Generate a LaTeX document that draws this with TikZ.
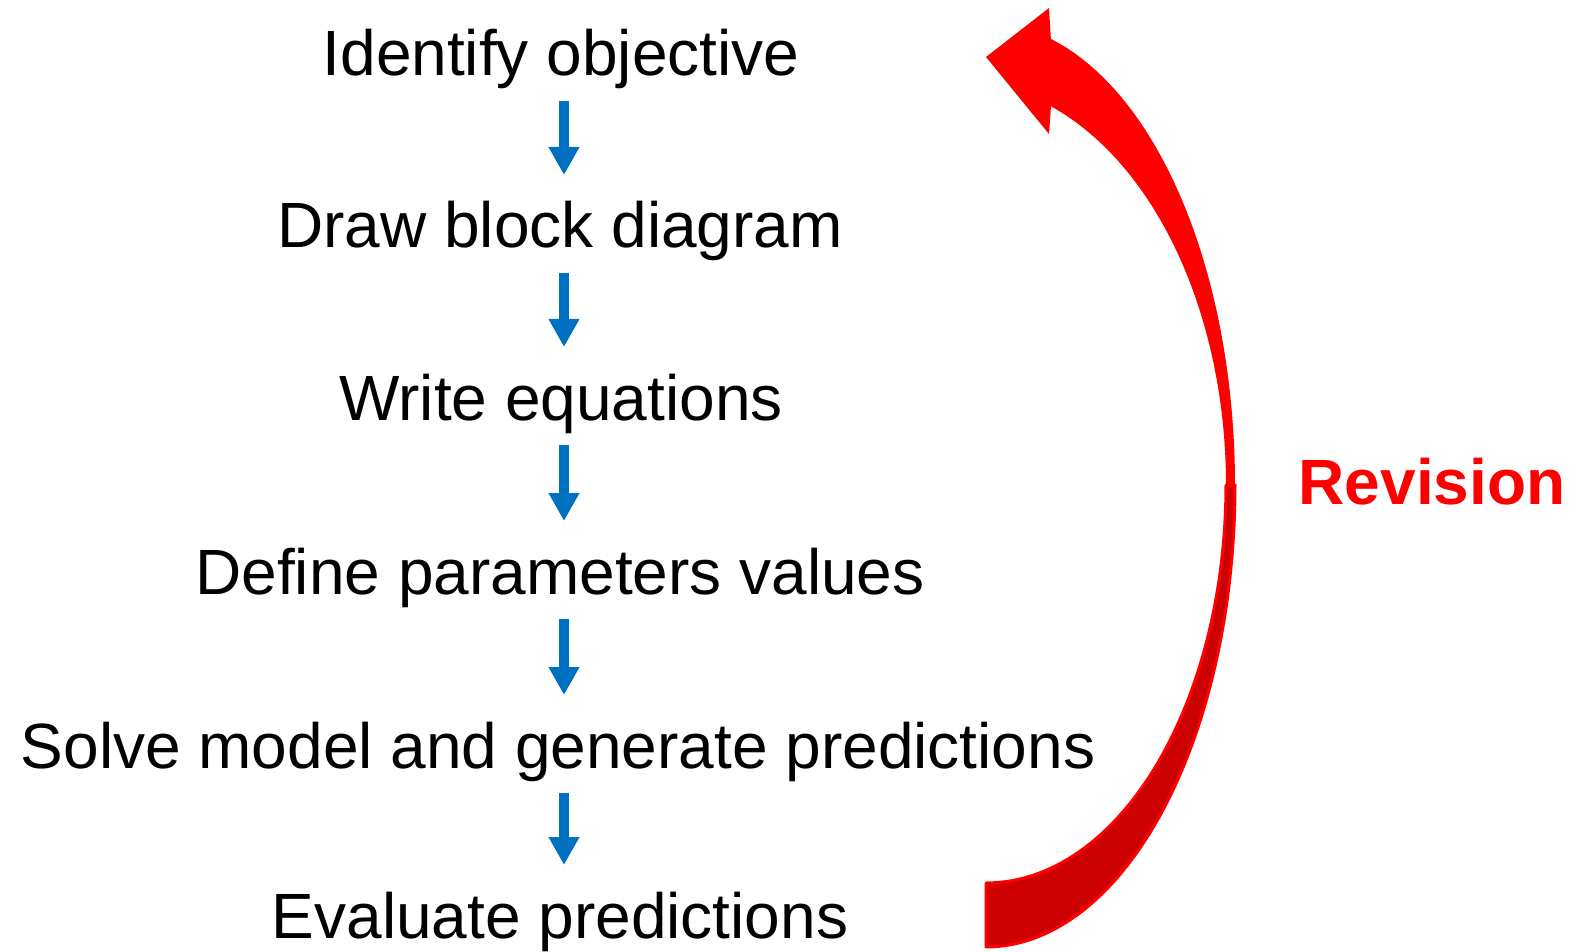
\documentclass[tikz,border=0pt]{standalone}
\usepackage{fontspec}
\setmainfont{Liberation Sans}
\usetikzlibrary{arrows.meta}
\definecolor{flowblue}{HTML}{0070C0}
\definecolor{darkred}{HTML}{CC0000}
\tikzset{
  stage/.style={inner sep=0pt, anchor=base, text height=23pt, text depth=6.7pt,
    font=\fontsize{32}{38}\selectfont},
  flow/.style={flowblue, line width=5pt, shorten <=5.4pt, shorten >=13.3pt,
    -{Triangle[width=14.5pt,length=14pt]}},
}

\begin{document}
\begin{tikzpicture}[x=0.5pt,y=-0.5pt]
\useasboundingbox (0,0) rectangle (1580,952);

\node (objective) at (561,76) [stage] {Identify objective};
\node (blockdiag) at (560,248) [stage] {Draw block diagram};
\node (equations) at (561,420) [stage] {Write equations};
\node (params) at (560,594) [stage] {Define parameters values};
\node (solve) at (558,768) [stage] {Solve model and generate predictions};
\node (evaluate) at (560,938) [stage] {Evaluate predictions};
\node (revision) at (1432,504) [stage, text=red, font=\fontsize{32}{38}\selectfont\bfseries] {Revision};

\draw [flow] ([xshift=2pt]blockdiag.north |- objective.south) -- ([xshift=2pt]blockdiag.north);
\draw [flow] ([xshift=2pt]blockdiag.south) -- ([xshift=2pt]blockdiag.south |- equations.north);
\draw [flow] ([xshift=2pt]params.north |- equations.south) -- ([xshift=2pt]params.north);
\draw [flow] ([xshift=2pt]params.south) -- ([xshift=2pt]params.south |- solve.north);
\draw [flow] ([xshift=2pt]evaluate.north |- solve.south) -- ([xshift=2pt]evaluate.north);

% revision arrow, upper half with head
\fill [red] plot[domain=-3:74.9, samples=60] ({986+249*cos(\x)},{485-462*sin(\x)})
  -- (1049,8) -- (986,57) -- (1049,134) -- (1051,106.3)
  -- plot[domain=70:-3, samples=60] ({960+266*cos(\x)},{485-403*sin(\x)}) -- cycle;
% lower half, darker
\filldraw [fill=darkred, draw=red, line width=1.5pt, line join=round]
  plot[domain=0:-90, samples=60] ({986+249*cos(\x)},{485-462*sin(\x)})
  -- plot[domain=-90:0, samples=60] ({986+240*cos(\x)},{485-398*sin(\x)}) -- cycle;
\end{tikzpicture}
\end{document}
